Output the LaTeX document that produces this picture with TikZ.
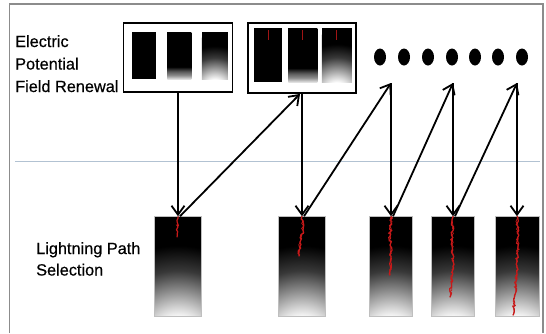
\documentclass[tikz,border=0pt]{standalone}
\usepackage{fontspec}
\setmainfont{Liberation Sans}[FakeBold=0.5]
\usetikzlibrary{arrows.meta, positioning, shapes.geometric, decorations.pathmorphing}

\definecolor{rule}{RGB}{178,194,210}
\definecolor{boltred}{RGB}{200,25,25}

% white glow rising from below the bottom edge of a field
\pgfdeclareradialshading{fieldglow}{\pgfpoint{0bp}{0bp}}{color(0bp)=(white); color(4.5bp)=(white); color(7bp)=(white!80!black); color(10bp)=(black!45); color(14bp)=(black!78); color(19bp)=(black); color(50bp)=(black)}
% white band along the bottom edge of a cell
\pgfdeclareverticalshading{bandfade}{100bp}{color(0bp)=(white!88!black); color(25bp)=(white!88!black); color(29bp)=(white!55!black); color(33bp)=(black!65); color(38bp)=(black); color(100bp)=(black)}

\tikzset{
    panel/.style={draw, line width=1.8pt, inner sep=0pt},
    cell/.style={fill=black, inner sep=0pt},
    field/.style={draw=black!25, line width=0.5pt, fill=black, inner sep=0pt},
    glow/.style 2 args={path picture={\shade[shading=fieldglow] ([yshift=-#1]path picture bounding box.south) circle [radius=#2];}},
    band/.style={path picture={\shade[shading=bandfade] (path picture bounding box.south west) rectangle (path picture bounding box.north east);}},
    bolt/.style={draw=boltred, line width=1.2pt, decorate, decoration={random steps, segment length=2pt, amplitude=1.3pt}},
    dot/.style={ellipse, fill=black, inner sep=0pt, minimum width=12pt, minimum height=17pt},
    link/.style={->, line width=1.8pt},
}

\begin{document}
\begin{tikzpicture}[x=1pt, y=-1pt, >={Straight Barb[length=9pt,width=13pt]}, font=\fontsize{16.3}{22.5}\selectfont]
    \useasboundingbox (0,0) rectangle (546,333);

    % frame and divider
    \coordinate (frame-bl) at (9.5,333);
    \coordinate (frame-tr) at (543,4);
    \coordinate (frame-br) at (543,333);
    \draw[black!45, line width=1.2pt] (frame-bl) |- (frame-tr) -- (frame-br);
    \coordinate (rule-l) at (15,161);
    \coordinate (rule-r) at (540,161);
    \draw[rule, line width=1pt] (rule-l) -- (rule-r);

    % labels
    \node[anchor=north west, inner sep=0pt, align=left] (renewal-label) at (15,35) {Electric\\Potential\\Field Renewal};
    \node[anchor=north west, inner sep=0pt, align=left, font=\fontsize{16.3}{21.5}\selectfont] (selection-label) at (36,242) {Lightning Path\\Selection};

    % first renewal panel
    \node[panel, minimum width=109pt, minimum height=69pt] (panel-1) at (178,57.5) {};
    \node[cell, minimum width=24pt, minimum height=47pt] (cell-1a) at (144,55.5) {};
    \node[cell, minimum width=24pt, minimum height=47pt, band, right = 11pt of cell-1a] (cell-1b) {};
    \node[cell, minimum width=26pt, minimum height=47pt, glow={13pt}{56pt}, right = 10pt of cell-1b] (cell-1c) {};

    % second renewal panel
    \node[panel, minimum width=108pt, minimum height=70pt] (panel-2) at (302,58) {};
    \node[cell, minimum width=28pt, minimum height=54pt] (cell-2a) at (268,55) {};
    \node[cell, minimum width=29pt, minimum height=54pt, band, right = 6pt of cell-2a] (cell-2b) {};
    \node[cell, minimum width=30pt, minimum height=54pt, glow={15pt}{64pt}, right = 4pt of cell-2b] (cell-2c) {};
    \foreach \c in {2a,2b,2c}
        \draw[boltred!80!black, line width=1pt] ([yshift=-2pt]cell-\c.north) -- ++(0,10);

    % further renewals
    \foreach \x [count=\i] in {380,404,428,452,475,498,522}
        \node[dot] (dot-\i) at (\x,57) {};

    % selection fields
    \foreach \n/\x/\w in {1/178/47, 2/302/47, 3/391/43, 4/453/43, 5/517/44}
        \node[field, minimum width=\w pt, minimum height=100pt, glow={24pt}{125pt}] (field-\n) at (\x,266.5) {};

    \pgfmathsetseed{7}
    \draw[bolt] (field-1.north) -- ++(-1,9) -- ++(0,12);
    \draw[bolt] (field-2.north) -- ++(1,14) -- ++(-3,12) -- ++(-1,14);
    \draw[bolt] (field-3.north) -- ++(-1,20) -- ++(1,20) -- ++(-1,19);
    \draw[bolt] (field-4.north) -- ++(-1,25) -- ++(1,25) -- ++(-3,31);
    \draw[bolt] (field-5.north) -- ++(1,30) -- ++(-2,35) -- ++(-3,34);
    % second, thinner pass for the branching
    \draw[bolt, line width=0.7pt] (field-2.north) -- ++(1,14) -- ++(-3,12) -- ++(-1,14);
    \draw[bolt, line width=0.7pt] (field-3.north) -- ++(-1,20) -- ++(1,20) -- ++(-1,19);
    \draw[bolt, line width=0.7pt] (field-4.north) -- ++(-1,25) -- ++(1,25) -- ++(-3,31);
    \draw[bolt, line width=0.7pt] (field-5.north) -- ++(1,30) -- ++(-2,35) -- ++(-3,34);

    % renewal / selection steps
    \coordinate (turn-3) at (391,83);
    \coordinate (turn-4) at (453,83);
    \coordinate (turn-5) at (517,83);

    \draw[link] (panel-1.south) -- (field-1.north);
    \draw[link] ([xshift=2pt]field-1.north) -- ([xshift=-2pt]panel-2.south);
    \draw[link] (panel-2.south) -- (field-2.north);
    \draw[link] ([xshift=2pt]field-2.north) -- (turn-3);
    \draw[link] (turn-3) -- (field-3.north);
    \draw[link] ([xshift=2pt]field-3.north) -- (turn-4);
    \draw[link] (turn-4) -- (field-4.north);
    \draw[link] ([xshift=2pt]field-4.north) -- (turn-5);
    \draw[link] (turn-5) -- (field-5.north);

\end{tikzpicture}
\end{document}
